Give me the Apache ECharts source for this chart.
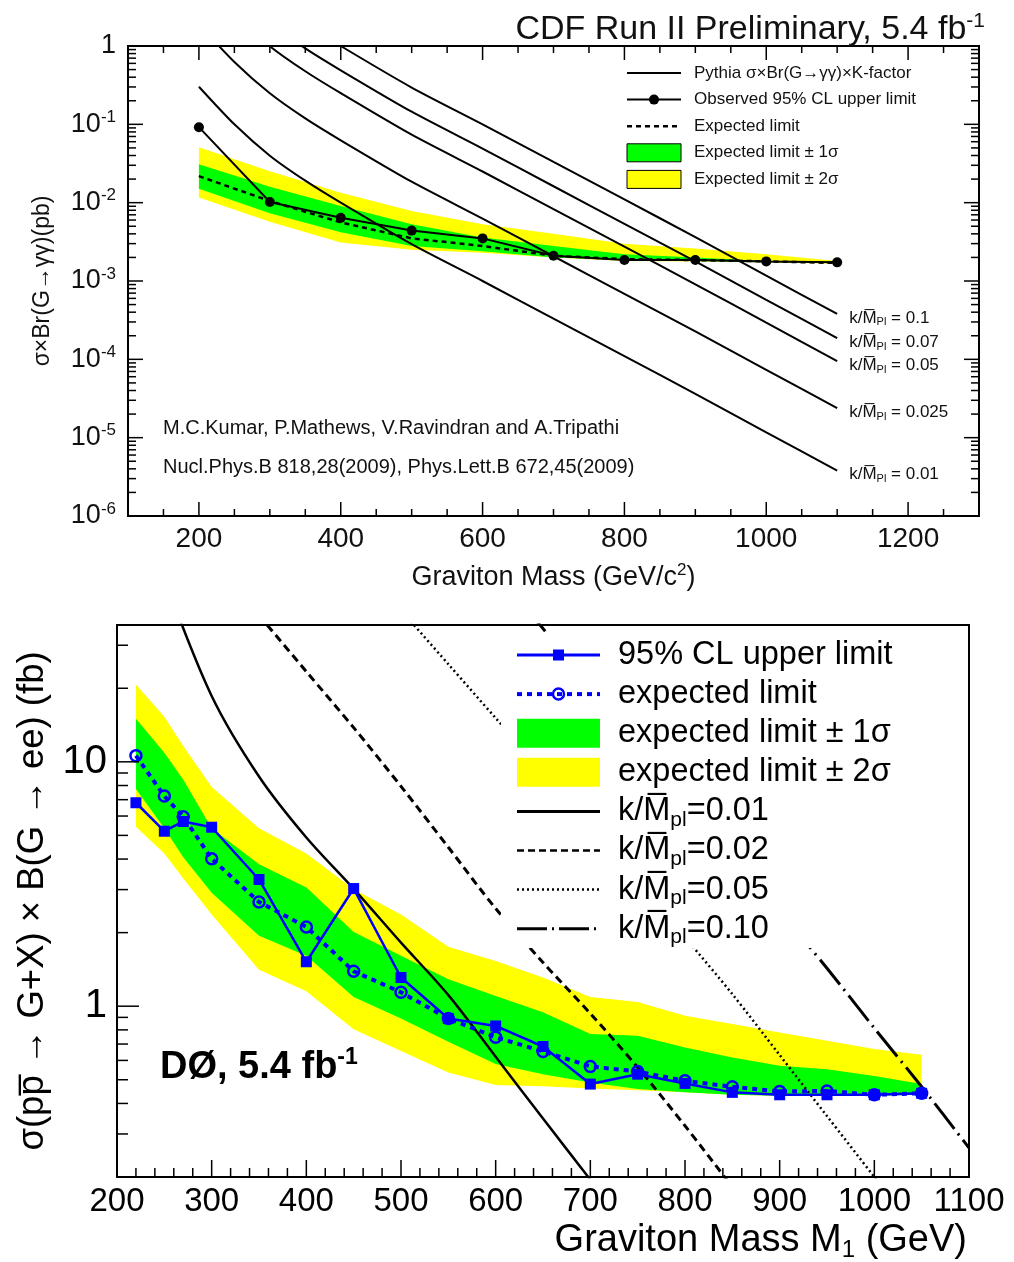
<!DOCTYPE html>
<html>
<head>
<meta charset="utf-8">
<title>Graviton search limits</title>
<script src="https://cdn.jsdelivr.net/npm/echarts@6.0.0/dist/echarts.min.js"></script>
<style>
html, body { margin: 0; padding: 0; background: #fff; }
#chart { width: 1014px; height: 1262px; }
</style>
</head>
<body>
<div id="chart"></div>
<script>
const FONT = '"Liberation Sans", Arial, Helvetica, sans-serif';

// ---------- CDF, G -> gamma gamma, 5.4 fb^-1 (cross sections in pb) ----------
const cdfMass     = [200, 300, 400, 500, 600, 700, 800, 900, 1000, 1100];
const cdfObserved = [0.092, 0.0102, 0.0064, 0.0044, 0.0035, 0.0021, 0.00185, 0.00185, 0.00178, 0.00173];
const cdfExpected = [0.0218, 0.0105, 0.0056, 0.0035, 0.0028, 0.0021, 0.0019, 0.00185, 0.00178, 0.0017];
const cdfUp1 = [0.031, 0.016, 0.0091, 0.0053, 0.0036, 0.0028, 0.0022, 0.0020, 0.0018, 0.00172];
const cdfLo1 = [0.015, 0.0073, 0.0042, 0.0028, 0.0024, 0.0020, 0.00185, 0.0018, 0.00175, 0.00168];
const cdfUp2 = [0.051, 0.0252, 0.0134, 0.0078, 0.0053, 0.0040, 0.0030, 0.0026, 0.0022, 0.0018];
const cdfLo2 = [0.0116, 0.0057, 0.0031, 0.0025, 0.0023, 0.0020, 0.0018, 0.00178, 0.00173, 0.00166];

// Pythia sigma x Br(G->gamma gamma) x K-factor for each coupling (pb)
const rsMass  = [200, 250, 300, 350, 400, 500, 600, 700, 800, 900, 1000, 1100];
const rsK0100 = [30.2, 10.0, 3.98, 1.91, 1.00, 0.295, 0.100, 0.0331, 0.0110, 0.00363, 0.00117, 0.00038];
const rsK0070 = [14.8, 4.90, 1.95, 0.933, 0.490, 0.145, 0.049, 0.0162, 0.00537, 0.00178, 0.000575, 0.000186];
const rsK0050 = [7.55, 2.50, 0.995, 0.476, 0.250, 0.0738, 0.0250, 0.00828, 0.00274, 0.000908, 0.000294, 0.000095];
const rsK0025 = [1.89, 0.625, 0.249, 0.119, 0.0625, 0.0185, 0.00625, 0.00207, 0.000685, 0.000227, 0.0000735, 0.0000238];
const rsK0010 = [0.302, 0.100, 0.0398, 0.0191, 0.0100, 0.00295, 0.00100, 0.000331, 0.000110, 0.0000363, 0.0000117, 0.0000038];
const rsCouplings = ['0.1', '0.07', '0.05', '0.025', '0.01'];

// ---------- D0, G -> ee, 5.4 fb^-1 (cross sections in fb) ----------
const d0Mass     = [220, 250, 270, 300, 350, 400, 450, 500, 550, 600, 650, 700, 750, 800, 850, 900, 950, 1000, 1050];
const d0Observed = [6.8, 5.2, 5.7, 5.4, 3.3, 1.52, 3.03, 1.31, 0.89, 0.83, 0.684, 0.48, 0.527, 0.483, 0.444, 0.434, 0.434, 0.434, 0.44];
const d0Expected = [10.6, 7.24, 5.96, 4.01, 2.67, 2.11, 1.39, 1.14, 0.89, 0.747, 0.653, 0.567, 0.54, 0.495, 0.468, 0.448, 0.45, 0.434, 0.44];
const d0Up1 = [15.0, 10.9, 8.44, 5.35, 3.81, 3.06, 2.01, 1.61, 1.29, 1.1, 0.944, 0.77, 0.757, 0.678, 0.617, 0.57, 0.552, 0.518, 0.48];
const d0Lo1 = [7.74, 5.35, 4.07, 2.91, 1.94, 1.61, 1.09, 0.89, 0.715, 0.58, 0.527, 0.487, 0.458, 0.444, 0.434, 0.43, 0.43, 0.43, 0.434];
const d0Up2 = [20.7, 15.3, 11.6, 7.89, 5.35, 4.22, 3.01, 2.37, 1.75, 1.53, 1.31, 1.09, 1.04, 0.914, 0.845, 0.78, 0.722, 0.668, 0.633];
const d0Lo2 = [5.43, 4.22, 3.33, 2.37, 1.41, 1.15, 0.805, 0.656, 0.535, 0.476, 0.47, 0.46, 0.453, 0.444, 0.434, 0.43, 0.43, 0.43, 0.434];

// RS graviton predictions, sigma x B(G->ee), per coupling (fb)
const d0K001Mass = [250, 300, 350, 400, 450, 500, 550, 600, 650, 700, 750];
const d0K001     = [56.2, 18.6, 8.71, 4.90, 3.02, 1.82, 1.11, 0.621, 0.347, 0.195, 0.11];
const d0K002Mass = [350, 400, 450, 500, 550, 600, 650, 700, 750, 800, 850, 900];
const d0K002     = [39.8, 23.4, 13.8, 7.94, 4.47, 2.51, 1.51, 0.933, 0.562, 0.324, 0.182, 0.102];
const d0K005Mass = [500, 550, 600, 650, 700, 750, 800, 850, 900, 950, 1000, 1050];
const d0K005     = [41.7, 25.1, 15.1, 9.12, 5.37, 3.16, 1.91, 1.12, 0.631, 0.355, 0.200, 0.112];
const d0K010Mass = [600, 650, 700, 750, 800, 850, 900, 950, 1000, 1050, 1100];
const d0K010     = [60.3, 35.1, 20.9, 12.3, 7.08, 4.17, 2.45, 1.43, 0.813, 0.468, 0.263];

// ---------- axis ranges and tick labels ----------
const topX = { min: 100, max: 1300 };
const topY = { min: 1e-6, max: 1 };
const botX = { min: 200, max: 1100 };
const botY = { min: 0.2, max: 36.3 };
const botYLabels = { 1: '1', 10: '10' };

const BLUE = '#0000ff';
const GREEN = '#00ff00';
const YELLOW = '#ffff00';

const pairs = (xs, ys) => xs.map((x, i) => [x, ys[i]]);

// Filled band between an upper and a lower curve, drawn as one polygon
function bandSeries(name, gi, mass, upper, lower, color) {
  return {
    type: 'custom', name, xAxisIndex: gi, yAxisIndex: gi, silent: true, z: 1,
    itemStyle: { color },
    data: mass.map((m, i) => [m, upper[i], lower[i]]),
    encode: { x: 0, y: [1, 2] },
    renderItem(params, api) {
      if (params.dataIndexInside !== 0) return null;
      const n = params.dataInsideLength;
      const top = [], bot = [];
      for (let i = 0; i < n; i++) {
        const m = api.value(0, i);
        top.push(api.coord([m, api.value(1, i)]));
        bot.push(api.coord([m, api.value(2, i)]));
      }
      return { type: 'polygon', shape: { points: top.concat(bot.reverse()) }, style: { fill: color } };
    }
  };
}

// Inward tick marks (log minor ticks included); mirror = also on top/right edges
function tickSeries(gi, ticks, mirror) {
  return {
    type: 'custom', xAxisIndex: gi, yAxisIndex: gi, silent: true, z: 6,
    data: ticks,
    renderItem(params, api) {
      const cs = params.coordSys;
      const kind = api.value(2), len = api.value(3);
      const p = api.coord([api.value(0), api.value(1)]);
      const st = { stroke: '#000', lineWidth: 1.5 };
      const kids = [];
      if (kind === 0) {
        const yb = cs.y + cs.height;
        kids.push({ type: 'line', shape: { x1: p[0], y1: yb, x2: p[0], y2: yb - len }, style: st });
        if (mirror) kids.push({ type: 'line', shape: { x1: p[0], y1: cs.y, x2: p[0], y2: cs.y + len }, style: st });
      } else {
        kids.push({ type: 'line', shape: { x1: cs.x, y1: p[1], x2: cs.x + len, y2: p[1] }, style: st });
        if (mirror) kids.push({ type: 'line', shape: { x1: cs.x + cs.width, y1: p[1], x2: cs.x + cs.width - len, y2: p[1] }, style: st });
      }
      return { type: 'group', children: kids };
    }
  };
}

function logTicks(lo, hi, xAt, majorLen, minorLen) {
  const out = [];
  for (let e = Math.floor(Math.log10(lo)); e <= Math.ceil(Math.log10(hi)); e++) {
    for (let m = 1; m <= 9; m++) {
      const v = m * Math.pow(10, e);
      if (v < lo * 0.9999 || v > hi * 1.0001) continue;
      out.push([xAt, v, 1, m === 1 ? majorLen : minorLen]);
    }
  }
  return out;
}

const topTicks = [];
for (let v = topX.min; v <= topX.max; v += 50) topTicks.push([v, topY.min, 0, v % 200 === 0 ? 14 : 7]);
topTicks.push(...logTicks(topY.min, topY.max, topX.min, 15, 8));

const botTicks = [];
for (let v = botX.min; v <= botX.max; v += 20) botTicks.push([v, botY.min, 0, v % 100 === 0 ? 17 : 9]);
botTicks.push(...logTicks(botY.min, botY.max, botX.min, 22, 11));

const supRich = { sup: { fontSize: 17, fontFamily: FONT, color: '#111', padding: [0, 0, 14, 0] } };

// ---------- legends, drawn as graphics ----------
function legendGroup(entries, cfg) {
  const els = [];
  entries.forEach((e, i) => {
    const cy = cfg.y0 + i * cfg.step;
    const x0 = cfg.x0, x1 = cfg.x0 + cfg.w, xm = (x0 + x1) / 2;
    if (e.icon === 'rect') {
      els.push({ type: 'rect', shape: { x: x0, y: cy - cfg.h / 2, width: cfg.w, height: cfg.h },
        style: { fill: e.fill, stroke: e.stroke || null, lineWidth: e.stroke ? 1 : 0 }, z: 12 });
    } else {
      els.push({ type: 'line', shape: { x1: x0, y1: cy, x2: x1, y2: cy },
        style: { stroke: e.color, lineWidth: e.width, lineDash: e.dash || null }, z: 12 });
      if (e.marker === 'dot') els.push({ type: 'circle', shape: { cx: xm, cy, r: e.size }, style: { fill: e.color }, z: 13 });
      if (e.marker === 'square') els.push({ type: 'rect', shape: { x: xm - e.size / 2, y: cy - e.size / 2, width: e.size, height: e.size }, style: { fill: e.color }, z: 13 });
      if (e.marker === 'ring') els.push({ type: 'circle', shape: { cx: xm, cy, r: e.size }, style: { fill: null, stroke: e.color, lineWidth: 2.5 }, z: 13 });
    }
    els.push({ type: 'text', z: 13, style: { text: e.text, x: cfg.xt, y: cy, fill: cfg.color || '#000', fontSize: cfg.fs,
      fontFamily: FONT, verticalAlign: 'middle', align: 'left', rich: cfg.rich } });
  });
  return els;
}

const kRich = (fs, ss, col) => ({
  m: { fontSize: fs, fontFamily: FONT, color: col || '#000' },
  s: { fontSize: ss, fontFamily: FONT, color: col || '#000', padding: [Math.round(ss * 0.8), 0, 0, 0] }
});

const topLegend = legendGroup([
  { text: 'Pythia σ×Br(G→γγ)×K-factor', color: '#000', width: 2 },
  { text: 'Observed 95% CL upper limit', color: '#000', width: 2, marker: 'dot', size: 5 },
  { text: 'Expected limit', color: '#000', width: 2.5, dash: [5, 4] },
  { text: 'Expected limit ± 1σ', icon: 'rect', fill: GREEN, stroke: '#000' },
  { text: 'Expected limit ± 2σ', icon: 'rect', fill: YELLOW, stroke: '#000' }
], { x0: 627, w: 54, h: 18, xt: 694, y0: 73, step: 26.6, fs: 17, color: '#111' });

const botLegend = legendGroup([
  { text: '95% CL upper limit', color: BLUE, width: 3, marker: 'square', size: 11 },
  { text: 'expected limit', color: BLUE, width: 4, dash: [5, 5], marker: 'ring', size: 5.5 },
  { text: 'expected limit ± 1σ', icon: 'rect', fill: GREEN },
  { text: 'expected limit ± 2σ', icon: 'rect', fill: YELLOW },
  { text: 'k/{m|M\u0305}{s|pl}=0.01', color: '#000', width: 3 },
  { text: 'k/{m|M\u0305}{s|pl}=0.02', color: '#000', width: 2.5, dash: [7, 4] },
  { text: 'k/{m|M\u0305}{s|pl}=0.05', color: '#000', width: 2.5, dash: [2, 3] },
  { text: 'k/{m|M\u0305}{s|pl}=0.10', color: '#000', width: 3, dash: [30, 5, 2, 5] }
], { x0: 517, w: 83, h: 29, xt: 618, y0: 655, step: 39.1, fs: 32.5, rich: kRich(32.5, 21) });

// ---------- chart ----------
const chart = echarts.init(document.getElementById('chart'), null, { renderer: 'canvas' });

const topTheory = [rsK0100, rsK0070, rsK0050, rsK0025, rsK0010].map((vals, i) => ({
  type: 'line', name: 'Pythia', xAxisIndex: 0, yAxisIndex: 0, z: 3,
  data: pairs(rsMass, vals), smooth: 0.25, symbol: 'none', clip: true,
  lineStyle: { color: '#000', width: 2 },
  endLabel: {
    show: true, distance: 12, offset: [0, 4], fontSize: 17, fontFamily: FONT, color: '#111',
    formatter: () => 'k/{m|M\u0305}{s|Pl} = ' + rsCouplings[i],
    rich: kRich(17, 11, '#111')
  }
}));

const botTheory = [
  { m: d0K001Mass, v: d0K001, w: 2.5, dash: 'solid' },
  { m: d0K002Mass, v: d0K002, w: 3, dash: [8, 5] },
  { m: d0K005Mass, v: d0K005, w: 2.5, dash: [2, 3] },
  { m: d0K010Mass, v: d0K010, w: 3, dash: [32, 6, 2, 6] }
].map(c => ({
  type: 'line', xAxisIndex: 1, yAxisIndex: 1, z: 3, data: pairs(c.m, c.v),
  smooth: 0.3, symbol: 'none', clip: true,
  lineStyle: { color: '#000', width: c.w, type: c.dash }
}));

const option = {
  animation: false,
  backgroundColor: '#fff',
  textStyle: { fontFamily: FONT },
  grid: [
    { left: 128, top: 46, width: 851, height: 470, show: true, borderColor: '#000', borderWidth: 2, backgroundColor: 'transparent' },
    { left: 117, top: 625, width: 852, height: 552, show: true, borderColor: '#000', borderWidth: 2, backgroundColor: 'transparent' }
  ],
  xAxis: [
    {
      gridIndex: 0, type: 'value', min: topX.min, max: topX.max, interval: 100,
      axisLine: { show: false }, axisTick: { show: false }, splitLine: { show: false },
      axisLabel: { formatter: v => (v % 200 === 0 ? String(v) : ''), fontSize: 28, color: '#111', margin: 9, fontFamily: FONT },
      name: 'Graviton Mass (GeV/c{sup|2})', nameLocation: 'middle', nameGap: 46,
      nameTextStyle: { fontSize: 27, color: '#111', fontFamily: FONT, rich: { sup: { fontSize: 17, fontFamily: FONT, color: '#111', padding: [0, 0, 14, 0] } } }
    },
    {
      gridIndex: 1, type: 'value', min: botX.min, max: botX.max, interval: 100,
      axisLine: { show: false }, axisTick: { show: false }, splitLine: { show: false },
      axisLabel: { formatter: v => String(v), fontSize: 33, color: '#000', margin: 8, fontFamily: FONT },
      name: 'Graviton Mass M{sub|1} (GeV)', nameLocation: 'end', nameGap: -2,
      nameTextStyle: { fontSize: 38, color: '#000', fontFamily: FONT, align: 'right', verticalAlign: 'top', padding: [43, 0, 0, 0],
        rich: { sub: { fontSize: 24, fontFamily: FONT, color: '#000', padding: [18, 0, 0, 0] } } }
    }
  ],
  yAxis: [
    {
      gridIndex: 0, type: 'log', logBase: 10, min: topY.min, max: topY.max,
      axisLine: { show: false }, axisTick: { show: false }, splitLine: { show: false },
      axisLabel: {
        fontSize: 27, color: '#111', margin: 12, fontFamily: FONT,
        formatter: v => { const e = Math.round(Math.log10(v)); return e === 0 ? '1' : '10{sup|' + e + '}'; },
        rich: supRich
      },
      name: 'σ×Br(G→γγ)(pb)', nameLocation: 'middle', nameGap: 74,
      nameTextStyle: { fontSize: 23, color: '#111', fontFamily: FONT }
    },
    {
      gridIndex: 1, type: 'log', logBase: 10, min: botY.min, max: botY.max,
      axisLine: { show: false }, axisTick: { show: false }, splitLine: { show: false },
      axisLabel: {
        fontSize: 40, color: '#000', margin: 10, fontFamily: FONT,
        formatter: v => { const r = Math.round(v); return Math.abs(v - r) < 1e-6 && botYLabels[r] ? botYLabels[r] : ''; }
      },
      name: 'σ(pp\u0305 → G+X) × B(G → ee) (fb)', nameLocation: 'middle', nameGap: 58,
      nameTextStyle: { fontSize: 36.5, color: '#000', fontFamily: FONT }
    }
  ],
  series: [
    bandSeries('Expected limit ± 2σ', 0, cdfMass, cdfUp2, cdfLo2, YELLOW),
    bandSeries('Expected limit ± 1σ', 0, cdfMass, cdfUp1, cdfLo1, GREEN),
    ...topTheory,
    {
      type: 'line', name: 'Expected limit', xAxisIndex: 0, yAxisIndex: 0, z: 4,
      data: pairs(cdfMass, cdfExpected), symbol: 'none',
      lineStyle: { color: '#000', width: 2.5, type: [5, 4] }
    },
    {
      type: 'line', name: 'Observed 95% CL upper limit', xAxisIndex: 0, yAxisIndex: 0, z: 5,
      data: pairs(cdfMass, cdfObserved), symbol: 'circle', symbolSize: 10,
      lineStyle: { color: '#000', width: 2 }, itemStyle: { color: '#000' }
    },
    tickSeries(0, topTicks, true),

    bandSeries('expected limit ± 2σ', 1, d0Mass, d0Up2, d0Lo2, YELLOW),
    bandSeries('expected limit ± 1σ', 1, d0Mass, d0Up1, d0Lo1, GREEN),
    ...botTheory,
    {
      type: 'line', name: 'expected limit', xAxisIndex: 1, yAxisIndex: 1, z: 4,
      data: pairs(d0Mass, d0Expected), symbol: 'circle', symbolSize: 11,
      lineStyle: { color: BLUE, width: 4, type: [5, 5] },
      itemStyle: { color: 'transparent', borderColor: BLUE, borderWidth: 2.5 }
    },
    {
      type: 'line', name: '95% CL upper limit', xAxisIndex: 1, yAxisIndex: 1, z: 5,
      data: pairs(d0Mass, d0Observed), symbol: 'rect', symbolSize: 11,
      lineStyle: { color: BLUE, width: 2.5 }, itemStyle: { color: BLUE }
    },
    tickSeries(1, botTicks, false)
  ],
  graphic: [
    { type: 'text', z: 10, style: { text: 'CDF Run II Preliminary, 5.4 fb{sup|-1}', x: 985, y: 30, align: 'right', verticalAlign: 'middle',
      fontSize: 34, fontFamily: FONT, fill: '#111', rich: { sup: { fontSize: 21, fontFamily: FONT, fill: '#111', padding: [0, 0, 18, 0] } } } },
    { type: 'text', z: 10, style: { text: 'M.C.Kumar, P.Mathews, V.Ravindran and A.Tripathi', x: 163, y: 428, verticalAlign: 'middle', fontSize: 20, fontFamily: FONT, fill: '#111' } },
    { type: 'text', z: 10, style: { text: 'Nucl.Phys.B 818,28(2009), Phys.Lett.B 672,45(2009)', x: 163, y: 467, verticalAlign: 'middle', fontSize: 20, fontFamily: FONT, fill: '#111' } },
    { type: 'text', z: 10, style: { text: 'DØ, 5.4 fb{sup|-1}', x: 160, y: 1068, verticalAlign: 'middle', fontSize: 38, fontWeight: 'bold', fontFamily: FONT, fill: '#000',
      rich: { sup: { fontSize: 23, fontWeight: 'bold', fontFamily: FONT, fill: '#000', padding: [0, 0, 20, 0] } } } },
    { type: 'rect', z: 11, shape: { x: 501, y: 634, width: 465, height: 314 }, style: { fill: '#fff' } },
    ...topLegend,
    ...botLegend
  ]
};

chart.setOption(option);
</script>
</body>
</html>
